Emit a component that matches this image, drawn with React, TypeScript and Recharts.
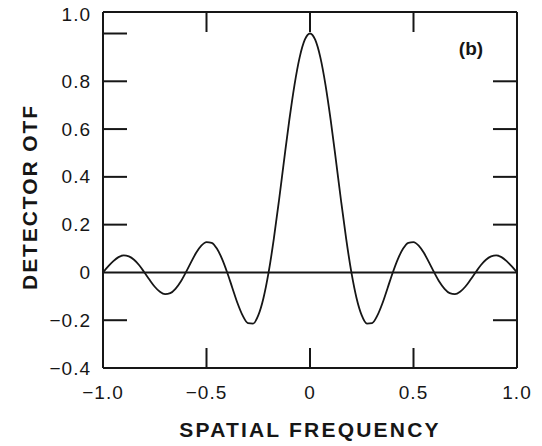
import { LineChart, Line, XAxis, YAxis, ReferenceLine } from "recharts";

// spatial frequency samples and the detector OTF
const freq = [
  -1.0, -0.975, -0.95, -0.925, -0.9, -0.875, -0.85, -0.825, -0.8, -0.775,
  -0.75, -0.725, -0.7, -0.675, -0.65, -0.625, -0.6, -0.575, -0.55, -0.525,
  -0.5, -0.475, -0.45, -0.425, -0.4, -0.375, -0.35, -0.325, -0.3, -0.275,
  -0.25, -0.225, -0.2, -0.175, -0.15, -0.125, -0.1, -0.075, -0.05, -0.025,
  0,
  0.025, 0.05, 0.075, 0.1, 0.125, 0.15, 0.175, 0.2, 0.225, 0.25,
  0.275, 0.3, 0.325, 0.35, 0.375, 0.4, 0.425, 0.45, 0.475, 0.5,
  0.525, 0.55, 0.575, 0.6, 0.625, 0.65, 0.675, 0.7, 0.725, 0.75,
  0.775, 0.8, 0.825, 0.85, 0.875, 0.9, 0.925, 0.95, 0.975, 1.0,
];

const otf = [
  0, 0.025, 0.047, 0.064, 0.071, 0.067, 0.053, 0.03, 0, -0.031,
  -0.06, -0.081, -0.091, -0.087, -0.069, -0.039, 0, 0.042, 0.082, 0.112,
  0.127, 0.124, 0.1, 0.057, 0, -0.065, -0.129, -0.181, -0.212, -0.214,
  -0.18, -0.108, 0, 0.139, 0.3, 0.471, 0.637, 0.784, 0.9, 0.974,
  1.0,
  0.974, 0.9, 0.784, 0.637, 0.471, 0.3, 0.139, 0, -0.108, -0.18,
  -0.214, -0.212, -0.181, -0.129, -0.065, 0, 0.057, 0.1, 0.124, 0.127,
  0.112, 0.082, 0.042, 0, -0.039, -0.069, -0.087, -0.091, -0.081, -0.06,
  -0.031, 0, 0.03, 0.053, 0.067, 0.071, 0.064, 0.047, 0.025, 0,
];

const xTicks = [-1, -0.5, 0, 0.5, 1];
const xTickLabels = ["\u22121.0", "\u22120.5", "0", "0.5", "1.0"];
const yTicks = [-0.4, -0.2, 0, 0.2, 0.4, 0.6, 0.8, 1.0];
const yTickLabels = ["\u22120.4", "\u22120.2", "0", "0.2", "0.4", "0.6", "0.8", "1.0"];
const topTicks = [-0.5, 0, 0.5];
const rightTicks = [-0.2, 0.2, 0.4, 0.6, 0.8];

const data = freq.map((f, i) => ({ f, otf: otf[i] }));

const INK = "#161616";
const FONT = "'Liberation Sans', Arial, sans-serif";

function BottomTick(props: any) {
  const { x, y, payload } = props;
  const v = payload.value;
  const label = xTickLabels[xTicks.indexOf(v)];
  const inner = Math.abs(v) < 1;
  return (
    <g>
      {inner && <line x1={x} x2={x} y1={y} y2={y - 20} stroke={INK} strokeWidth={2} />}
      <text x={x} y={y + 31} textAnchor="middle" fontSize={19} letterSpacing={1} fill={INK} fontFamily={FONT}>
        {label}
      </text>
    </g>
  );
}

function LeftTick(props: any) {
  const { x, y, payload } = props;
  const v = payload.value;
  const label = yTickLabels[yTicks.indexOf(v)];
  const showLine = v !== -0.4 && v !== 0;
  const ty = v === 1 ? y - 12.5 : y + 6.5;
  return (
    <g>
      {showLine && <line x1={x} x2={x + 24} y1={y} y2={y} stroke={INK} strokeWidth={2} />}
      <text x={x - 12} y={ty} textAnchor="end" fontSize={19} letterSpacing={1} fill={INK} fontFamily={FONT}>
        {label}
      </text>
    </g>
  );
}

function TopTick(props: any) {
  const { x, y } = props;
  return <line x1={x} x2={x} y1={y} y2={y + 20} stroke={INK} strokeWidth={2} />;
}

function RightTick(props: any) {
  const { x, y } = props;
  return <line x1={x} x2={x - 24} y1={y} y2={y} stroke={INK} strokeWidth={2} />;
}

const axisLine = { stroke: INK, strokeWidth: 2 };

export default function App() {
  return (
    <div style={{ position: "absolute", left: 0, top: 0, width: 542, height: 446, background: "#fff" }}>
      <LineChart width={542} height={446} data={data} margin={{ top: 0, right: 0, bottom: 0, left: 0 }}>
        <XAxis
          dataKey="f"
          type="number"
          domain={[-1, 1]}
          allowDataOverflow
          ticks={xTicks}
          height={78}
          tickSize={0}
          tickMargin={0}
          axisLine={axisLine}
          tick={<BottomTick />}
          interval={0}
        />
        <XAxis
          xAxisId="top"
          orientation="top"
          dataKey="f"
          type="number"
          domain={[-1, 1]}
          allowDataOverflow
          ticks={topTicks}
          height={12}
          tickSize={0}
          tickMargin={0}
          axisLine={axisLine}
          tick={<TopTick />}
          interval={0}
        />
        <YAxis
          type="number"
          domain={[-0.4, 1.09]}
          allowDataOverflow
          ticks={yTicks}
          width={103}
          tickSize={0}
          tickMargin={0}
          axisLine={axisLine}
          tick={<LeftTick />}
          interval={0}
        />
        <YAxis
          yAxisId="right"
          orientation="right"
          type="number"
          domain={[-0.4, 1.09]}
          allowDataOverflow
          ticks={rightTicks}
          width={25}
          tickSize={0}
          tickMargin={0}
          axisLine={axisLine}
          tick={<RightTick />}
          interval={0}
        />
        <ReferenceLine y={0} stroke={INK} strokeWidth={2} />
        <Line
          dataKey="otf"
          type="monotone"
          stroke={INK}
          strokeWidth={1.8}
          dot={false}
          activeDot={false}
          isAnimationActive={false}
        />
        <text
          transform="translate(37,197) rotate(-90)"
          textAnchor="middle"
          fontSize={21}
          fontWeight="bold"
          letterSpacing={1.9}
          fill={INK}
          fontFamily={FONT}
        >
          DETECTOR OTF
        </text>
        <text
          x={310}
          y={437}
          textAnchor="middle"
          fontSize={21}
          fontWeight="bold"
          letterSpacing={2.2}
          fill={INK}
          fontFamily={FONT}
        >
          SPATIAL FREQUENCY
        </text>
        <text x={471} y={55} textAnchor="middle" fontSize={19} fontWeight="bold" fill={INK} fontFamily={FONT}>
          (b)
        </text>
      </LineChart>
    </div>
  );
}
